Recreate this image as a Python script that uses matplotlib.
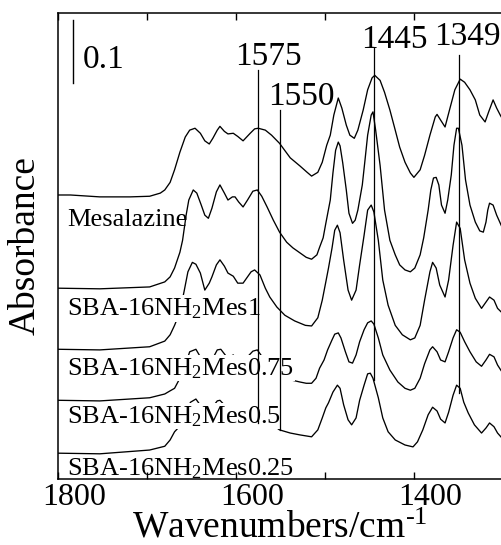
import matplotlib
matplotlib.use("Agg")
import matplotlib.pyplot as plt
from matplotlib.ticker import MultipleLocator, NullLocator
from matplotlib.transforms import ScaledTranslation

plt.rcParams['font.family'] = ['Liberation Serif', 'DejaVu Serif']
plt.rcParams['mathtext.fontset'] = 'custom'
plt.rcParams['mathtext.rm'] = 'Liberation Serif'
plt.rcParams['mathtext.it'] = 'Liberation Serif:italic'
plt.rcParams['mathtext.bf'] = 'Liberation Serif:bold'

# ---------------- data (wavenumber, stacked absorbance) ----------------
mes_wn = [1800, 1786, 1753, 1719, 1697, 1685, 1680, 1674, 1669, 1663, 1657, 1652, 1646, 1640,
          1635, 1630, 1626, 1621, 1618, 1613, 1609, 1603, 1598, 1592, 1584, 1579, 1575, 1567,
          1560, 1551, 1539, 1528, 1520, 1515, 1508, 1503, 1498, 1494, 1490, 1485, 1481, 1476,
          1472, 1467, 1463, 1457, 1452, 1447, 1444, 1438, 1433, 1427, 1421, 1416, 1410, 1404,
          1400, 1393, 1388, 1382, 1376, 1374, 1370, 1365, 1360, 1354, 1348, 1343, 1337, 1331,
          1326, 1320, 1316, 1311, 1307, 1303, 1301]
mes_abs = [0.451, 0.451, 0.448, 0.448, 0.449, 0.454, 0.459, 0.471, 0.491, 0.519, 0.543, 0.554,
           0.557, 0.549, 0.537, 0.532, 0.541, 0.554, 0.560, 0.552, 0.548, 0.549, 0.544, 0.537,
           0.549, 0.556, 0.557, 0.554, 0.546, 0.533, 0.510, 0.497, 0.487, 0.481, 0.487, 0.503,
           0.530, 0.546, 0.578, 0.605, 0.589, 0.562, 0.546, 0.541, 0.554, 0.586, 0.618, 0.637,
           0.641, 0.633, 0.614, 0.586, 0.554, 0.527, 0.503, 0.486, 0.479, 0.491, 0.514, 0.546,
           0.575, 0.579, 0.570, 0.559, 0.586, 0.618, 0.635, 0.630, 0.618, 0.602, 0.578, 0.567,
           0.583, 0.602, 0.589, 0.578, 0.573]

sba1_wn = [1800, 1753, 1697, 1680, 1674, 1669, 1663, 1660, 1656, 1653, 1648, 1644, 1639, 1635,
           1631, 1627, 1622, 1618, 1613, 1609, 1604, 1601, 1597, 1592, 1587, 1581, 1576, 1571,
           1565, 1558, 1551, 1543, 1536, 1528, 1521, 1515, 1509, 1506, 1502, 1499, 1494, 1491,
           1488, 1485, 1483, 1480, 1476, 1473, 1469, 1466, 1463, 1458, 1455, 1452, 1448, 1446,
           1443, 1438, 1433, 1427, 1421, 1416, 1410, 1404, 1399, 1393, 1389, 1384, 1381, 1378,
           1375, 1372, 1369, 1365, 1362, 1358, 1355, 1352, 1350, 1346, 1342, 1337, 1331, 1326,
           1322, 1319, 1317, 1315, 1311, 1307, 1301]
sba1_abs = [0.303, 0.302, 0.305, 0.313, 0.321, 0.335, 0.360, 0.379, 0.419, 0.443, 0.459, 0.454,
            0.435, 0.419, 0.414, 0.430, 0.456, 0.467, 0.454, 0.443, 0.448, 0.448, 0.440, 0.432,
            0.443, 0.457, 0.459, 0.449, 0.432, 0.411, 0.392, 0.376, 0.367, 0.359, 0.352, 0.349,
            0.356, 0.368, 0.383, 0.406, 0.443, 0.486, 0.522, 0.535, 0.529, 0.502, 0.459, 0.422,
            0.406, 0.411, 0.427, 0.467, 0.506, 0.546, 0.578, 0.583, 0.554, 0.498, 0.427, 0.379,
            0.356, 0.340, 0.332, 0.329, 0.335, 0.356, 0.383, 0.427, 0.459, 0.478, 0.479, 0.467,
            0.435, 0.422, 0.443, 0.483, 0.530, 0.557, 0.557, 0.530, 0.475, 0.435, 0.408, 0.394,
            0.392, 0.408, 0.427, 0.438, 0.435, 0.419, 0.400]

sba075_wn = [1800, 1753, 1697, 1680, 1674, 1669, 1663, 1658, 1654, 1649, 1645, 1640, 1635, 1630,
             1627, 1622, 1618, 1613, 1609, 1603, 1598, 1592, 1588, 1583, 1579, 1573, 1567, 1562,
             1554, 1545, 1534, 1522, 1515, 1508, 1503, 1499, 1496, 1492, 1489, 1486, 1483, 1479,
             1474, 1470, 1465, 1461, 1456, 1452, 1448, 1445, 1440, 1435, 1429, 1421, 1413, 1404,
             1399, 1393, 1388, 1382, 1379, 1375, 1371, 1365, 1361, 1356, 1352, 1348, 1343, 1337,
             1331, 1324, 1319, 1315, 1310, 1306, 1301]
sba075_abs = [0.206, 0.205, 0.210, 0.219, 0.229, 0.244, 0.265, 0.300, 0.329, 0.344, 0.341, 0.327,
              0.300, 0.311, 0.321, 0.340, 0.348, 0.338, 0.327, 0.322, 0.311, 0.311, 0.319, 0.329,
              0.332, 0.324, 0.303, 0.289, 0.273, 0.260, 0.251, 0.244, 0.243, 0.256, 0.284, 0.313,
              0.335, 0.367, 0.395, 0.403, 0.391, 0.348, 0.300, 0.284, 0.300, 0.340, 0.387, 0.427,
              0.435, 0.424, 0.379, 0.316, 0.276, 0.244, 0.229, 0.221, 0.224, 0.244, 0.284, 0.329,
              0.344, 0.335, 0.308, 0.289, 0.316, 0.371, 0.408, 0.398, 0.348, 0.311, 0.287, 0.271,
              0.281, 0.289, 0.284, 0.271, 0.264]

sba05_wn = [1800, 1753, 1697, 1680, 1674, 1669, 1663, 1657, 1652, 1645, 1638, 1633, 1627, 1621,
            1617, 1611, 1607, 1603, 1599, 1593, 1587, 1581, 1576, 1571, 1564, 1556, 1545, 1534,
            1528, 1521, 1515, 1510, 1506, 1501, 1497, 1492, 1489, 1485, 1482, 1477, 1473, 1469,
            1465, 1461, 1456, 1452, 1448, 1445, 1440, 1435, 1427, 1418, 1410, 1404, 1399, 1393,
            1388, 1382, 1379, 1374, 1370, 1365, 1361, 1356, 1352, 1348, 1343, 1337, 1330, 1324,
            1319, 1315, 1310, 1306, 1301]
sba05_abs = [0.125, 0.124, 0.129, 0.135, 0.140, 0.144, 0.160, 0.181, 0.202, 0.206, 0.189, 0.176,
             0.189, 0.205, 0.206, 0.195, 0.194, 0.197, 0.189, 0.181, 0.194, 0.203, 0.205, 0.195,
             0.179, 0.167, 0.159, 0.156, 0.154, 0.152, 0.152, 0.160, 0.176, 0.189, 0.205, 0.221,
             0.230, 0.232, 0.224, 0.202, 0.186, 0.184, 0.197, 0.218, 0.237, 0.248, 0.251, 0.246,
             0.224, 0.197, 0.173, 0.154, 0.144, 0.141, 0.144, 0.160, 0.183, 0.205, 0.210, 0.202,
             0.189, 0.186, 0.202, 0.224, 0.237, 0.233, 0.218, 0.202, 0.186, 0.179, 0.189, 0.198,
             0.194, 0.181, 0.170]

sba025_wn = [1800, 1753, 1697, 1680, 1674, 1669, 1665, 1661, 1656, 1651, 1645, 1638, 1633, 1627,
             1621, 1618, 1612, 1607, 1601, 1596, 1590, 1582, 1576, 1571, 1564, 1556, 1551, 1539,
             1528, 1515, 1508, 1503, 1499, 1496, 1491, 1486, 1483, 1479, 1474, 1470, 1465, 1461,
             1456, 1452, 1449, 1446, 1440, 1435, 1429, 1421, 1410, 1401, 1396, 1390, 1384, 1379,
             1374, 1370, 1365, 1361, 1356, 1352, 1348, 1344, 1339, 1332, 1324, 1319, 1315, 1310,
             1306, 1301]
sba025_abs = [0.041, 0.040, 0.046, 0.052, 0.062, 0.075, 0.081, 0.094, 0.110, 0.122, 0.127, 0.113,
              0.102, 0.113, 0.124, 0.125, 0.116, 0.113, 0.111, 0.105, 0.108, 0.118, 0.119, 0.110,
              0.094, 0.083, 0.078, 0.073, 0.070, 0.067, 0.078, 0.097, 0.113, 0.121, 0.138, 0.149,
              0.144, 0.118, 0.094, 0.086, 0.097, 0.125, 0.149, 0.167, 0.168, 0.160, 0.129, 0.097,
              0.075, 0.062, 0.054, 0.051, 0.059, 0.078, 0.102, 0.114, 0.108, 0.095, 0.089, 0.106,
              0.133, 0.149, 0.144, 0.122, 0.105, 0.086, 0.073, 0.081, 0.089, 0.083, 0.073, 0.065]

sample_labels = ['Mesalazine', 'SBA-16NH$_\\mathregular{2}$Mes1',
                 'SBA-16NH$_\\mathregular{2}$Mes0.75', 'SBA-16NH$_\\mathregular{2}$Mes0.5',
                 'SBA-16NH$_\\mathregular{2}$Mes0.25']

# marked bands: wavenumber, line top, line bottom (absorbance)
band_wn = [1575, 1550, 1445, 1349]
band_top = [0.649, 0.586, 0.684, 0.673]
band_bottom = [0.089, 0.078, 0.157, 0.137]
band_text = ['1575', '1550', '1445', '1349']

scale_value = 0.1
xticks_major = [1800, 1600, 1400]

# ---------------- figure ----------------
W, H = 502, 545
fig = plt.figure(figsize=(W / 100, H / 100), dpi=100)
ax = fig.add_axes([58 / W, 66 / H, 444 / W, 466 / H])

curves = [(mes_wn, mes_abs), (sba1_wn, sba1_abs), (sba075_wn, sba075_abs),
          (sba05_wn, sba05_abs), (sba025_wn, sba025_abs)]
for wn, ab in curves:
    ax.plot(wn, ab, color='black', lw=0.95, zorder=2, solid_joinstyle='round')

# sample labels (left, under each trace); middle ones mask the trace below
label_pos = [(1790, 0.402), (1790, 0.260), (1790, 0.165), (1790, 0.089), (1790, 0.006)]
for i, (txt, (x, y)) in enumerate(zip(sample_labels, label_pos)):
    kw = {}
    if 0 < i < len(sample_labels) - 1:
        kw['bbox'] = dict(facecolor='white', edgecolor='none', pad=0.5)
    ax.text(x, y, txt, fontsize=19, ha='left', va='baseline', zorder=3,
            clip_on=False, **kw)

# band lines and labels
band_label_pos = [(1563, 0.657), (1527, 0.594), (1422, 0.684), (1340, 0.689)]
for wn, top, bot, txt, (tx, ty) in zip(band_wn, band_top, band_bottom, band_text, band_label_pos):
    ax.plot([wn, wn], [bot, top], color='black', lw=0.9, zorder=4)
    ax.text(tx, ty, txt, fontsize=24, ha='center', va='baseline', zorder=4)

# scale bar
ax.plot([1783, 1783], [0.6286, 0.6286 + scale_value], color='black', lw=1.0, zorder=4)
ax.text(1772, 0.652, '0.1', fontsize=24, ha='left', va='baseline')

ax.set_xlim(1800, 1301)
ax.set_ylim(0, 0.74)
ax.set_xticks(xticks_major)
ax.xaxis.set_minor_locator(MultipleLocator(100))
ax.yaxis.set_major_locator(NullLocator())
ax.tick_params(axis='x', which='both', direction='in', top=True, bottom=True,
               length=5, width=1, labelsize=23, pad=3)
for lab in ax.get_xticklabels():
    lab.set_transform(lab.get_transform() + ScaledTranslation(0.16, 0, fig.dpi_scale_trans))

ax.spines['right'].set_visible(False)
for s in ['left', 'top', 'bottom']:
    ax.spines[s].set_linewidth(1.1)
    ax.spines[s].set_zorder(5)

ax.set_xlabel('Wavenumbers/cm$^{\\text{-1}}$', fontsize=27, va='baseline')
ax.xaxis.set_label_coords(0.5, -0.1266)
ax.set_ylabel('Absorbance', fontsize=27, va='center', ha='center')
ax.yaxis.set_label_coords(-0.074, 0.5)

fig.savefig('out.png', dpi=100)
